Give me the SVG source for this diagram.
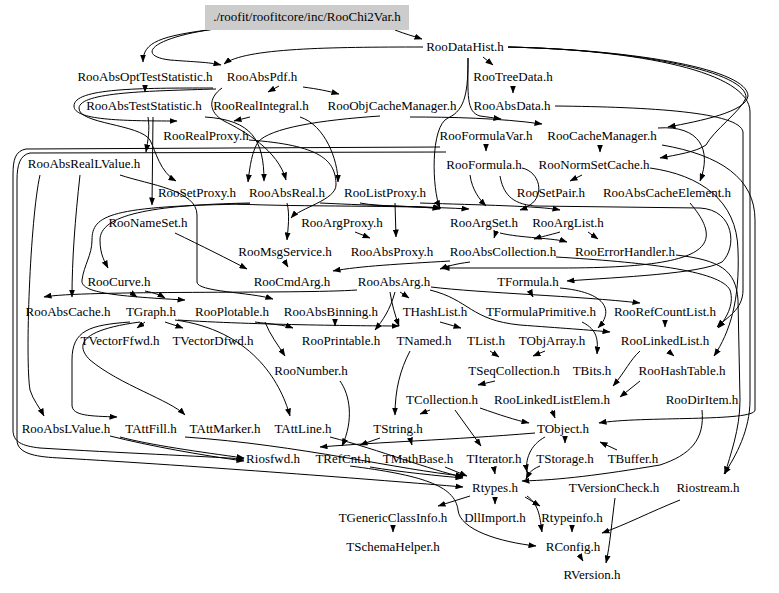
<svg xmlns="http://www.w3.org/2000/svg" width="779" height="593" viewBox="0 0 779 593">
<style>
text{font-family:"Liberation Serif","Times New Roman",serif;font-size:13px;fill:#000;text-anchor:middle}
#connectors path{fill:none;stroke:#000;stroke-width:1;marker-end:url(#ah)}
</style>
<defs>
<marker id="ah" markerUnits="userSpaceOnUse" markerWidth="8" markerHeight="6" refX="7.5" refY="3" orient="auto"><path d="M0,0 L8,3 L0,6 z" fill="#000"/></marker>
</defs>
<rect width="779" height="593" fill="#fff"/>
<g id="connectors">
<path d="M395,30 C405,34 413,36 422,39"/>
<path d="M215,29 C160,36 143,42 143,62"/>
<path d="M215,29 C150,38 136,56 170,60 C195,62 208,62 221,65"/>
<path d="M423,47 C330,47 245,48 224,64"/>
<path d="M483,57 L493,65"/>
<path d="M513,86 L513,93"/>
<path d="M508,47 C640,50 748,70 748,96 C746,112 700,121 668,127"/>
<path d="M508,47 C640,50 750,72 750,112 L750,400 C750,430 736,456 724,474"/>
<path d="M508,47 C640,50 748,72 746,98 C740,112 714,130 706,145 C696,152 676,155 660,158"/>
<path d="M468,58 C468,95 466,112 480,116 C488,117 494,118 501,119"/>
<path d="M468,58 C468,90 466,110 448,118 C430,126 432,190 440,208"/>
<path d="M555,106 C650,107 740,112 743,132 L743,290 C743,310 726,318 717,327"/>
<path d="M145,86 L145,92"/>
<path d="M213,88 C140,88 74,88 74,106 C74,120 120,121 177,121"/>
<path d="M216,89 C150,91 80,92 79,108 C78,124 140,124 150,140 C156,152 160,172 176,181"/>
<path d="M279,86 L268,92"/>
<path d="M303,87 C318,89 328,91 339,94"/>
<path d="M222,88 C208,98 208,112 224,121 C244,131 278,150 286,180"/>
<path d="M205,117 C252,120 264,140 264,181"/>
<path d="M250,117 L234,121"/>
<path d="M300,117 C325,125 338,160 338,182"/>
<path d="M148,117 C150,130 148,140 146,152"/>
<path d="M153,117 L152,205"/>
<path d="M410,117 C450,117 500,118 542,124"/>
<path d="M380,116 C320,120 270,128 258,142 C252,152 250,165 248,182"/>
<path d="M440,147 L26,149 C15,151 13,160 13,175 L13,430 C13,442 22,446 40,448 C120,453 200,456 244,459"/>
<path d="M446,152 L30,153 C20,155 17,165 17,180 L17,440 C17,455 40,457 60,458 C200,466 380,480 463,487"/>
<path d="M486,146 L486,151"/>
<path d="M600,146 L600,152"/>
<path d="M658,128 C700,125 712,150 700,181"/>
<path d="M662,145 C720,155 755,178 755,220 L755,410 C755,422 640,416 599,423"/>
<path d="M650,168 C700,175 737,200 738,250 C740,300 730,332 714,356"/>
<path d="M582,175 L570,181"/>
<path d="M470,175 C472,190 480,200 486,206"/>
<path d="M522,168 C540,172 545,195 530,205 C526,207 523,209 520,210"/>
<path d="M500,176 C503,192 510,204 535,206 L700,208 C735,210 737,248 722,262 C700,274 620,277 567,281"/>
<path d="M360,203 C380,207 420,206 441,208"/>
<path d="M237,204 C300,207 400,205 469,209"/>
<path d="M420,203 C480,205 540,206 560,210"/>
<path d="M320,203 C380,206 420,206 440,209"/>
<path d="M249,140 C320,145 336,160 336,185 C336,200 300,208 291,218"/>
<path d="M287,203 C290,215 288,228 287,240"/>
<path d="M395,203 L396,237"/>
<path d="M355,232 L370,238"/>
<path d="M496,232 L494,238"/>
<path d="M560,232 C550,235 540,237 534,239"/>
<path d="M588,232 L598,239"/>
<path d="M500,233 C520,238 555,238 567,242"/>
<path d="M250,203 C150,205 100,215 100,240 C100,255 105,262 108,268"/>
<path d="M250,204 C110,206 92,215 92,240 C92,255 84,265 82,280 C80,292 110,296 185,300"/>
<path d="M175,233 C200,245 230,260 247,269"/>
<path d="M285,262 L288,267"/>
<path d="M470,262 C455,264 448,266 440,269"/>
<path d="M450,261 C400,264 360,266 333,271"/>
<path d="M690,203 C730,250 700,268 560,268 L442,268"/>
<path d="M676,255 C720,260 736,270 738,300 L740,400 C740,430 730,455 725,474"/>
<path d="M556,257 C640,262 720,270 730,290 C735,305 725,320 718,328"/>
<path d="M80,175 C75,220 72,260 72,297"/>
<path d="M40,175 C30,220 25,360 30,390 C33,400 40,408 44,416"/>
<path d="M120,175 C150,185 197,190 197,215 L197,282 C197,292 250,292 273,299"/>
<path d="M357,290 C300,294 80,290 44,297"/>
<path d="M130,292 L137,297"/>
<path d="M145,291 C155,293 160,295 165,298"/>
<path d="M400,292 L409,298"/>
<path d="M530,291 L533,297"/>
<path d="M431,287 C480,293 580,296 640,303"/>
<path d="M395,292 C390,310 383,320 375,330"/>
<path d="M390,292 C392,305 395,315 399,326"/>
<path d="M430,290 C470,300 470,320 520,325 C560,328 590,330 610,332"/>
<path d="M560,288 C605,292 615,310 598,328"/>
<path d="M582,322 C598,330 598,340 597,354"/>
<path d="M255,322 C270,324 285,325 293,328"/>
<path d="M335,321 L335,326"/>
<path d="M265,322 C270,335 278,345 285,356"/>
<path d="M145,322 L137,328"/>
<path d="M165,322 L183,328"/>
<path d="M130,322 C90,325 72,330 72,360 L72,405 C72,416 90,416 117,417"/>
<path d="M140,322 C80,330 75,345 90,360 C120,385 170,400 185,415"/>
<path d="M175,320 C250,330 280,380 290,416"/>
<path d="M178,320 C250,325 380,326 399,326"/>
<path d="M440,322 L461,328"/>
<path d="M665,322 L665,327"/>
<path d="M490,351 L499,357"/>
<path d="M545,351 L533,356"/>
<path d="M668,351 L674,356"/>
<path d="M640,351 C630,360 625,372 613,386"/>
<path d="M640,381 L620,397"/>
<path d="M495,381 L478,385"/>
<path d="M410,351 C400,370 395,390 395,415"/>
<path d="M430,410 L420,414"/>
<path d="M480,408 C500,415 515,420 529,423"/>
<path d="M552,410 L555,418"/>
<path d="M455,410 L481,446"/>
<path d="M565,437 L565,443"/>
<path d="M617,450 L600,442"/>
<path d="M545,437 C530,445 525,460 527,472"/>
<path d="M535,433 C450,440 380,442 320,447"/>
<path d="M380,438 L360,445"/>
<path d="M410,438 L412,445"/>
<path d="M702,410 C705,440 690,455 660,465 C600,475 560,480 522,481"/>
<path d="M340,381 C350,395 354,420 342,446"/>
<path d="M120,437 C150,445 200,452 244,458"/>
<path d="M110,436 C150,446 200,455 244,461"/>
<path d="M185,437 C300,445 400,470 463,476"/>
<path d="M330,437 C380,450 430,470 463,477"/>
<path d="M370,467 C400,472 440,476 463,478"/>
<path d="M445,467 L467,476"/>
<path d="M494,468 L495,474"/>
<path d="M540,466 C530,470 528,475 526,479"/>
<path d="M470,496 L438,506"/>
<path d="M495,497 L495,504"/>
<path d="M525,497 L540,506"/>
<path d="M527,496 C540,505 540,520 542,532"/>
<path d="M615,498 C612,520 610,545 606,563"/>
<path d="M680,500 C650,512 625,525 602,533"/>
<path d="M572,527 L572,532"/>
<path d="M393,527 L393,532"/>
<path d="M580,556 L583,561"/>
<path d="M350,466 C420,475 455,485 458,510 C460,530 500,542 536,546"/>
</g>
<g id="n_root"><rect x="205" y="5" width="204" height="25" fill="#cccccc"/><text x="307" y="21">./roofit/roofitcore/inc/RooChi2Var.h</text></g>
<g id="n_RooDataHist"><text x="465" y="51">RooDataHist.h</text></g>
<g id="n_RooAbsOptTestStatistic"><text x="145" y="81">RooAbsOptTestStatistic.h</text></g>
<g id="n_RooAbsPdf"><text x="262" y="81">RooAbsPdf.h</text></g>
<g id="n_RooTreeData"><text x="513" y="81">RooTreeData.h</text></g>
<g id="n_RooAbsTestStatistic"><text x="144" y="110">RooAbsTestStatistic.h</text></g>
<g id="n_RooRealIntegral"><text x="261" y="110">RooRealIntegral.h</text></g>
<g id="n_RooObjCacheManager"><text x="392" y="110">RooObjCacheManager.h</text></g>
<g id="n_RooAbsData"><text x="512" y="110">RooAbsData.h</text></g>
<g id="n_RooRealProxy"><text x="206" y="140">RooRealProxy.h</text></g>
<g id="n_RooFormulaVar"><text x="486" y="140">RooFormulaVar.h</text></g>
<g id="n_RooCacheManager"><text x="602" y="140">RooCacheManager.h</text></g>
<g id="n_RooAbsRealLValue"><text x="84" y="168">RooAbsRealLValue.h</text></g>
<g id="n_RooFormula"><text x="484" y="169">RooFormula.h</text></g>
<g id="n_RooNormSetCache"><text x="594" y="169">RooNormSetCache.h</text></g>
<g id="n_RooSetProxy"><text x="197" y="197">RooSetProxy.h</text></g>
<g id="n_RooAbsReal"><text x="287" y="197">RooAbsReal.h</text></g>
<g id="n_RooListProxy"><text x="385" y="197">RooListProxy.h</text></g>
<g id="n_RooSetPair"><text x="551" y="197">RooSetPair.h</text></g>
<g id="n_RooAbsCacheElement"><text x="667" y="197">RooAbsCacheElement.h</text></g>
<g id="n_RooNameSet"><text x="148" y="227">RooNameSet.h</text></g>
<g id="n_RooArgProxy"><text x="342" y="227">RooArgProxy.h</text></g>
<g id="n_RooArgSet"><text x="484" y="227">RooArgSet.h</text></g>
<g id="n_RooArgList"><text x="568" y="227">RooArgList.h</text></g>
<g id="n_RooMsgService"><text x="285" y="256">RooMsgService.h</text></g>
<g id="n_RooAbsProxy"><text x="392" y="256">RooAbsProxy.h</text></g>
<g id="n_RooAbsCollection"><text x="503" y="256">RooAbsCollection.h</text></g>
<g id="n_RooErrorHandler"><text x="625" y="256">RooErrorHandler.h</text></g>
<g id="n_RooCurve"><text x="119" y="286">RooCurve.h</text></g>
<g id="n_RooCmdArg"><text x="292" y="286">RooCmdArg.h</text></g>
<g id="n_RooAbsArg"><text x="394" y="286">RooAbsArg.h</text></g>
<g id="n_TFormula"><text x="528" y="286">TFormula.h</text></g>
<g id="n_RooAbsCache"><text x="68" y="316">RooAbsCache.h</text></g>
<g id="n_TGraph"><text x="151" y="316">TGraph.h</text></g>
<g id="n_RooPlotable"><text x="232" y="316">RooPlotable.h</text></g>
<g id="n_RooAbsBinning"><text x="331" y="316">RooAbsBinning.h</text></g>
<g id="n_THashList"><text x="435" y="316">THashList.h</text></g>
<g id="n_TFormulaPrimitive"><text x="541" y="316">TFormulaPrimitive.h</text></g>
<g id="n_RooRefCountList"><text x="665" y="316">RooRefCountList.h</text></g>
<g id="n_TVectorFfwd"><text x="120" y="345">TVectorFfwd.h</text></g>
<g id="n_TVectorDfwd"><text x="213" y="345">TVectorDfwd.h</text></g>
<g id="n_RooPrintable"><text x="341" y="345">RooPrintable.h</text></g>
<g id="n_TNamed"><text x="424" y="345">TNamed.h</text></g>
<g id="n_TList"><text x="486" y="345">TList.h</text></g>
<g id="n_TObjArray"><text x="552" y="345">TObjArray.h</text></g>
<g id="n_RooLinkedList"><text x="665" y="345">RooLinkedList.h</text></g>
<g id="n_RooNumber"><text x="311" y="375">RooNumber.h</text></g>
<g id="n_TSeqCollection"><text x="514" y="375">TSeqCollection.h</text></g>
<g id="n_TBits"><text x="592" y="375">TBits.h</text></g>
<g id="n_RooHashTable"><text x="682" y="375">RooHashTable.h</text></g>
<g id="n_TCollection"><text x="442" y="404">TCollection.h</text></g>
<g id="n_RooLinkedListElem"><text x="552" y="404">RooLinkedListElem.h</text></g>
<g id="n_RooDirItem"><text x="702" y="404">RooDirItem.h</text></g>
<g id="n_TString"><text x="398" y="433">TString.h</text></g>
<g id="n_TObject"><text x="563" y="433">TObject.h</text></g>
<g id="n_RooAbsLValue"><text x="66" y="433">RooAbsLValue.h</text></g>
<g id="n_TAttFill"><text x="151" y="433">TAttFill.h</text></g>
<g id="n_TAttMarker"><text x="225" y="433">TAttMarker.h</text></g>
<g id="n_TAttLine"><text x="303" y="433">TAttLine.h</text></g>
<g id="n_Riosfwd"><text x="273" y="463">Riosfwd.h</text></g>
<g id="n_TRefCnt"><text x="343" y="463">TRefCnt.h</text></g>
<g id="n_TMathBase"><text x="418" y="463">TMathBase.h</text></g>
<g id="n_TIterator"><text x="494" y="463">TIterator.h</text></g>
<g id="n_TStorage"><text x="565" y="463">TStorage.h</text></g>
<g id="n_TBuffer"><text x="633" y="463">TBuffer.h</text></g>
<g id="n_Rtypes"><text x="495" y="492">Rtypes.h</text></g>
<g id="n_TVersionCheck"><text x="614" y="492">TVersionCheck.h</text></g>
<g id="n_Riostream"><text x="708" y="492">Riostream.h</text></g>
<g id="n_TGenericClassInfo"><text x="393" y="522">TGenericClassInfo.h</text></g>
<g id="n_DllImport"><text x="495" y="522">DllImport.h</text></g>
<g id="n_Rtypeinfo"><text x="572" y="522">Rtypeinfo.h</text></g>
<g id="n_TSchemaHelper"><text x="393" y="551">TSchemaHelper.h</text></g>
<g id="n_RConfig"><text x="573" y="551">RConfig.h</text></g>
<g id="n_RVersion"><text x="592" y="579">RVersion.h</text></g>
</svg>
